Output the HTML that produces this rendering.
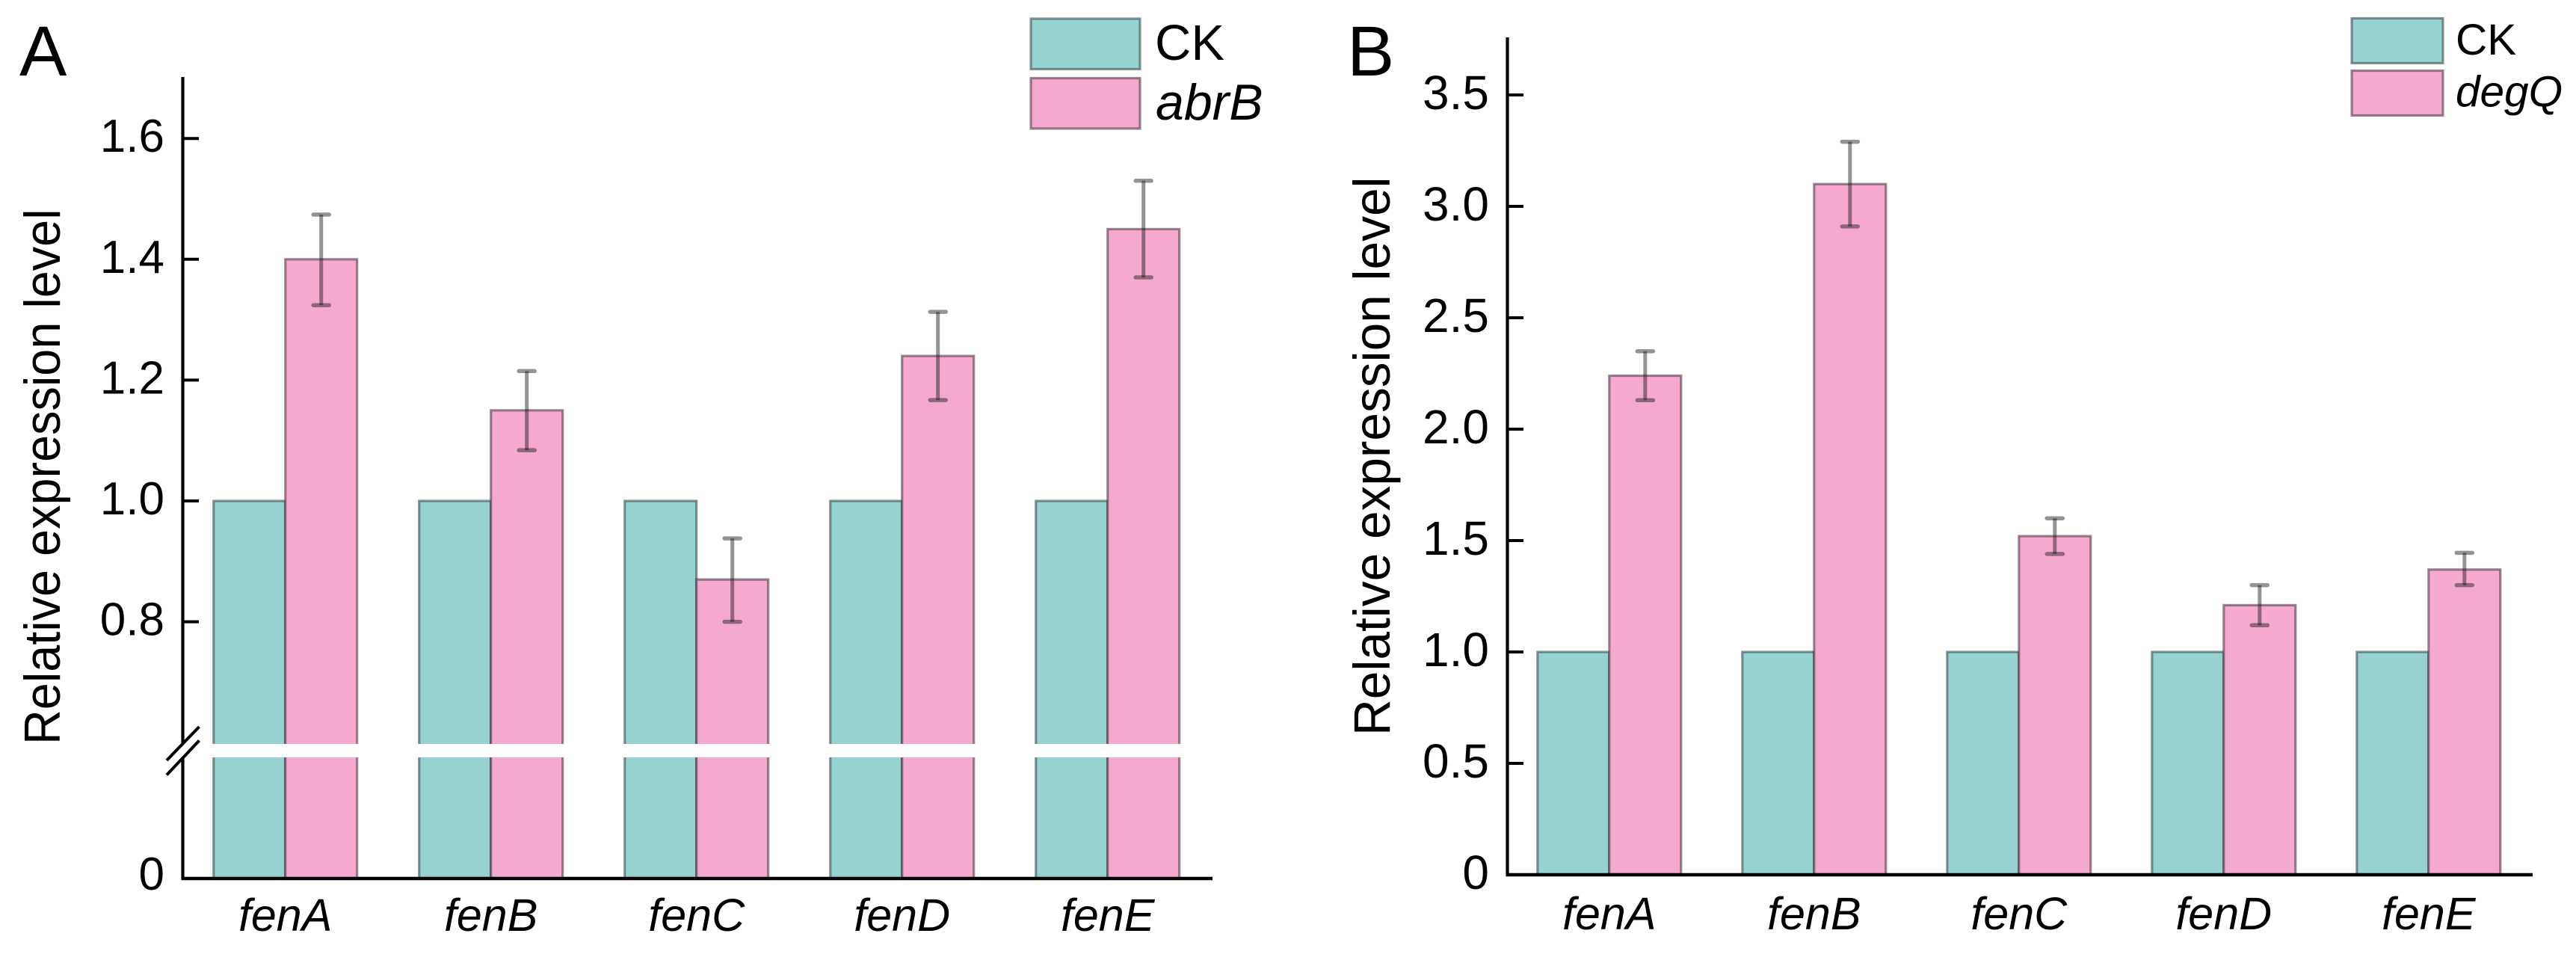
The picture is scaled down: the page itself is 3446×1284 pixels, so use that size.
<!DOCTYPE html>
<html lang="en">
<head>
<meta charset="utf-8">
<title>Relative expression of fen genes</title>
<style>
html,body{margin:0;padding:0;background:#fff;width:3446px;height:1284px;overflow:hidden}
svg{display:block}
text{font-family:"Liberation Sans",Arial,sans-serif;fill:#000}
.i{font-style:italic}
</style>
</head>
<body>
<svg id="fig" xmlns="http://www.w3.org/2000/svg" width="3446" height="1284" viewBox="0 0 3446 1284">
  <rect width="3446" height="1284" fill="#fff"/>
  <g id="chartA"></g>
  <g id="chartB"></g>

  <text x="26" y="101" font-size="95">A</text>
  <text x="1802" y="101" font-size="95">B</text>

  <text transform="translate(80,996) rotate(-90) scale(1,1.04)" font-size="64.8">Relative expression level</text>
  <text transform="translate(1859,984) rotate(-90) scale(1,1.01)" font-size="67.6">Relative expression level</text>

  <g>
    <rect x="1379" y="25" width="146" height="67.5" fill="#96D2D0" stroke="#2f3f40" stroke-opacity=".55" stroke-width="3.2"/>
    <text x="1545" y="80" font-size="67">CK</text>
    <rect x="1379" y="104.5" width="146" height="67.5" fill="#F6A9CF" stroke="#3f2f38" stroke-opacity=".55" stroke-width="3.2"/>
    <text class="i" x="1546" y="160" font-size="68">abrB</text>
  </g>
  <g>
    <rect x="3146" y="24.5" width="122" height="60" fill="#96D2D0" stroke="#2f3f40" stroke-opacity=".55" stroke-width="3.2"/>
    <text x="3285" y="73" font-size="58.5">CK</text>
    <rect x="3146" y="94.5" width="122" height="60" fill="#F6A9CF" stroke="#3f2f38" stroke-opacity=".55" stroke-width="3.2"/>
    <text class="i" x="3285" y="142.5" font-size="58.5">degQ</text>
  </g>
</svg>
<script>
const categories = ['fenA', 'fenB', 'fenC', 'fenD', 'fenE'];

const ckValuesA = [1, 1, 1, 1, 1];
const abrbValues = [1.40, 1.15, 0.87, 1.24, 1.45];
const abrbErrHigh = [1.474, 1.215, 0.938, 1.313, 1.53];
const abrbErrLow = [1.324, 1.084, 0.80, 1.167, 1.37];
const tickValuesA = [0.8, 1.0, 1.2, 1.4, 1.6];
const tickLabelsA = ['0.8', '1.0', '1.2', '1.4', '1.6'];
const zeroLabelA = '0';

const ckValuesB = [1, 1, 1, 1, 1];
const degqValues = [2.24, 3.10, 1.52, 1.21, 1.37];
const degqErrHigh = [2.35, 3.29, 1.60, 1.30, 1.445];
const degqErrLow = [2.13, 2.91, 1.44, 1.12, 1.30];
const tickValuesB = [0.5, 1.0, 1.5, 2.0, 2.5, 3.0, 3.5];
const tickLabelsB = ['0.5', '1.0', '1.5', '2.0', '2.5', '3.0', '3.5'];
const zeroLabelB = '0';

const NS = 'http://www.w3.org/2000/svg';
function mk(parent, tag, attrs) {
  const el = document.createElementNS(NS, tag);
  for (const k in attrs) el.setAttribute(k, attrs[k]);
  parent.appendChild(el);
  return el;
}

/* Axis functions */
function yA(v) {
  if (v <= 0.55) return 1175 - (v / 0.55) * 162;
  return 670 - (v - 1) * 808;
}
function yB(v) { return 1170 - v * 298; }
function xA(groupIndex) { return 381.7 + groupIndex * 275; }
function xB(groupIndex) { return 2152.8 + groupIndex * 274; }

function drawChart(root, o) {
  const barW = 96;
  o.categories.forEach(function (cat, i) {
    const cx = o.x(i);
    const yBase = o.y(0);
    const yCk = o.y(o.ck[i]);
    const yTr = o.y(o.treated[i]);

    const r1 = mk(root, 'rect', {x: cx - barW, y: yCk, width: barW, height: yBase - yCk, fill: '#96D2D0', stroke: '#2f3f40', 'stroke-opacity': '.55', 'stroke-width': 3.2});
    
    

    const r2 = mk(root, 'rect', {x: cx, y: yTr, width: barW, height: yBase - yTr, fill: '#F6A9CF', stroke: '#3f2f38', 'stroke-opacity': '.55', 'stroke-width': 3.2});
    
    
  });

  if (o.gap) {
    const g = mk(root, 'rect', {x: 268, y: o.gap[0], width: 1330, height: o.gap[1] - o.gap[0], fill: '#fff'});
    
    
  }

  o.categories.forEach(function (cat, i) {
    const ex = o.x(i) + barW / 2;
    const yHi = o.y(o.errHigh[i]);
    const yLo = o.y(o.errLow[i]);
    const eg = mk(root, 'g', {stroke: '#111', fill: 'none'});
    
    
    mk(eg, 'line', {x1: ex, x2: ex, y1: yHi, y2: yLo, 'stroke-width': 5, 'stroke-opacity': '.45'});
    mk(eg, 'line', {x1: ex - 10.5, x2: ex + 10.5, y1: yHi, y2: yHi, 'stroke-width': 5.5, 'stroke-opacity': '.45', 'stroke-linecap': 'round'});
    mk(eg, 'line', {x1: ex - 10.5, x2: ex + 10.5, y1: yLo, y2: yLo, 'stroke-width': 5.5, 'stroke-opacity': '.45', 'stroke-linecap': 'round'});

    const t = mk(root, 'text', {x: o.x(i), y: o.catY, 'font-size': 61, 'font-style': 'italic', 'text-anchor': 'middle'});
    t.textContent = cat;
    
    
  });

  o.tickValues.forEach(function (v, i) {
    const ty = o.y(v);
    const tk = mk(root, 'line', {x1: o.axisX, x2: o.axisX + 21.5, y1: ty, y2: ty, stroke: '#000', 'stroke-width': 4});
    
    
    const lb = mk(root, 'text', {x: o.labelX, y: ty + o.labelDy, 'font-size': o.tickFont, 'text-anchor': 'end'});
    lb.textContent = o.tickLabels[i];
    
    
  });

  const z = mk(root, 'text', {x: o.labelX, y: o.y(0) + o.zeroDy, 'font-size': o.tickFont, 'text-anchor': 'end'});
  z.textContent = o.zeroLabel;
  
  

  const base = mk(root, 'line', {x1: o.axisX - 2, x2: o.axisRight, y1: o.y(0), y2: o.y(0), stroke: '#000', 'stroke-width': 4.6});
  
  

  if (o.gap) {
    const a1 = mk(root, 'line', {x1: o.axisX, x2: o.axisX, y1: o.axisTop, y2: o.gap[0], stroke: '#000', 'stroke-width': 4.2});
    
    
    const a2 = mk(root, 'line', {x1: o.axisX, x2: o.axisX, y1: o.gap[1], y2: o.y(0), stroke: '#000', 'stroke-width': 4.2});
    
    
    const s1 = mk(root, 'line', {x1: 223, y1: 1017, x2: 266.5, y2: 972, stroke: '#000', 'stroke-width': 4});
    
    
    const s2 = mk(root, 'line', {x1: 223, y1: 1036.5, x2: 266.5, y2: 990.5, stroke: '#000', 'stroke-width': 4});
    
    
  } else {
    const a = mk(root, 'line', {x1: o.axisX, x2: o.axisX, y1: o.axisTop, y2: o.y(0), stroke: '#000', 'stroke-width': 4.2});
    
    
  }
}

drawChart(document.getElementById('chartA'), {
  categories: categories, ck: ckValuesA, treated: abrbValues, errHigh: abrbErrHigh, errLow: abrbErrLow,
  tickValues: tickValuesA, tickLabels: tickLabelsA, zeroLabel: zeroLabelA,
  x: xA, y: yA, axisX: 244.5, axisTop: 103, axisRight: 1622, labelX: 220, labelDy: 18, zeroDy: 15,
  tickFont: 62, catY: 1245, gap: [995, 1013]
});
drawChart(document.getElementById('chartB'), {
  categories: categories, ck: ckValuesB, treated: degqValues, errHigh: degqErrHigh, errLow: degqErrLow,
  tickValues: tickValuesB, tickLabels: tickLabelsB, zeroLabel: zeroLabelB,
  x: xB, y: yB, axisX: 2016.5, axisTop: 50, axisRight: 3388, labelX: 1992, labelDy: 19, zeroDy: 19,
  tickFont: 64, catY: 1243, gap: null
});
</script>
</body>
</html>
